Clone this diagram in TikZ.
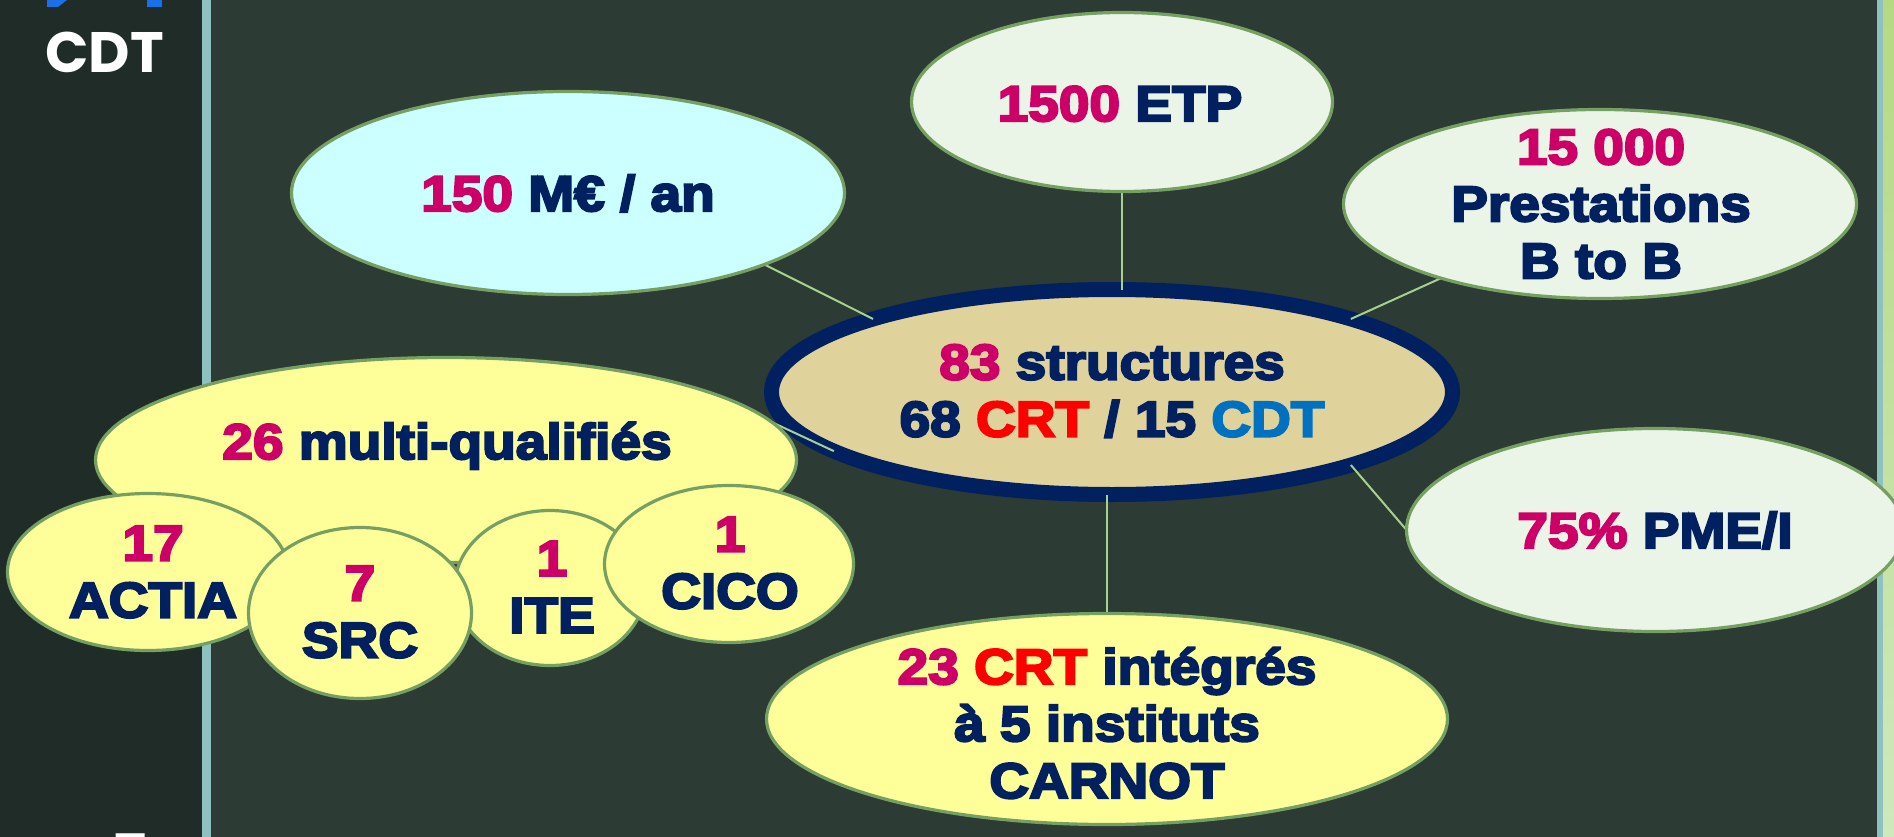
\documentclass[tikz,border=0pt]{standalone}
\usepackage{fontspec}
\usetikzlibrary{shapes.geometric}
\newfontfamily\hv{Liberation Sans}[UprightFont={* Bold}, FakeStretch=1.1]
\newfontfamily\pop{Poppins}
\newcommand\heavytext{\special{pdf:literal direct 2 Tr 2.2 w}}
\definecolor{mag}{HTML}{CC0066}
\definecolor{navy}{HTML}{002060}
\definecolor{redc}{HTML}{FF0000}
\definecolor{bluec}{HTML}{0070C0}
\definecolor{olv}{HTML}{76A062}
\definecolor{lgr}{HTML}{A9D18E}
\definecolor{cyanf}{HTML}{CCFFFF}
\definecolor{paleg}{HTML}{EBF5E7}
\definecolor{yel}{HTML}{FFFF99}
\definecolor{tanf}{HTML}{DFD39B}
\definecolor{bgmain}{HTML}{2C3B33}
\definecolor{bgleft}{HTML}{202C28}
\definecolor{barc}{HTML}{8FC1C1}
\definecolor{logob}{HTML}{1A6FEA}
\definecolor{stripa}{HTML}{B5D983}
\definecolor{stripb}{HTML}{CFE8BC}
\tikzset{
  bub/.style={ellipse, draw=olv, line width=3.2pt, inner sep=0pt, outer sep=0pt},
  txt/.style={font={\hv\fontsize{50}{57}\selectfont\heavytext}, text=navy, align=center, inner sep=0pt},
  conn/.style={draw=lgr, line width=2pt},
  side/.style={font={\pop\bfseries\fontsize{57}{57}\selectfont}, text=white, inner sep=0pt}
}
\begin{document}
\begin{tikzpicture}[x=1pt,y=-1pt]
\useasboundingbox (0,0) rectangle (1894,837);
\clip (0,0) rectangle (1894,837);
% background
\fill[bgmain] (0,0) rectangle (1894,837);
\fill[bgleft] (0,0) rectangle (202,837);
\fill[barc] (202,0) rectangle (211,837);
\fill[barc] (1877,0) rectangle (1883,837);
\shade[top color=stripa, bottom color=stripb] (1883,0) rectangle (1894,837);
% side panel decorations
\fill[logob] (47,0) -- (67,0) -- (58,7) -- (47,7) -- cycle;
\fill[logob] (147,0) rectangle (162,7);
\node[side, anchor=base west] (cdt) at (45,73) {CDT};
\node[side, anchor=base, font={\pop\bfseries\fontsize{60}{60}\selectfont}] (pnum) at (131,877) {7};
% central ellipse
\node[bub, fill=tanf, draw=navy, line width=15pt, minimum width=681pt, minimum height=205pt] (center) at (1112,392) {};
% invisible anchors of the outer ellipses for the connectors
\node[bub, draw=none, minimum width=553pt, minimum height=203pt] (m150) at (568,193) {};
\node[bub, draw=none, minimum width=421pt, minimum height=179pt] (etp) at (1122,102) {};
\node[bub, draw=none, minimum width=513pt, minimum height=189pt] (prest) at (1600,204) {};
\node[bub, draw=none, minimum width=701pt, minimum height=205pt] (multi) at (446,460) {};
\node[bub, draw=none, minimum width=497pt, minimum height=203pt] (p75) at (1655,530) {};
\node[bub, draw=none, minimum width=681pt, minimum height=211pt] (carnot) at (1107,719) {};
% connectors
\draw[conn] (m150.-20) -- (center.163);
\draw[conn] (etp.south) -- (etp.south |- center.north);
\draw[conn] (prest.205) -- (center.17);
\draw[conn] (center.-17) -- (p75.west);
\draw[conn] (carnot.north) -- (carnot.north |- center.south);
\draw[conn] (center.192) -- (multi.15);
% ellipses drawn
\node[bub, fill=cyanf, minimum width=553pt, minimum height=203pt] (m150e) at (568,193) {};
\node[bub, fill=paleg, minimum width=421pt, minimum height=179pt] (etpe) at (1122,102) {};
\node[bub, fill=paleg, minimum width=513pt, minimum height=189pt] (preste) at (1600,204) {};
\node[bub, fill=yel, minimum width=701pt, minimum height=205pt] (multie) at (446,460) {};
\node[bub, fill=paleg, minimum width=497pt, minimum height=203pt] (p75e) at (1655,530) {};
\node[bub, fill=yel, minimum width=681pt, minimum height=211pt] (carnote) at (1107,719) {};
\node[bub, fill=yel, minimum width=281pt, minimum height=157pt] (actia) at (148,572) {};
\node[bub, fill=yel, minimum width=191pt, minimum height=155pt] (ite) at (550,588) {};
\node[bub, fill=yel, minimum width=223pt, minimum height=171pt] (src) at (360,613) {};
\node[bub, fill=yel, minimum width=249pt, minimum height=157pt] (cico) at (729,564) {};
% texts
\node[txt] (tcenter) at (1112,391) {{\color{mag}83} structures\\68 {\color{redc}CRT} / 15 {\color{bluec}CDT}};
\node[txt, anchor=base] (tm150) at (568,211) {{\color{mag}150} M€ / an};
\node[txt, anchor=base] (tetp) at (1120,121) {{\color{mag}1500} ETP};
\node[txt] (tprest) at (1601,204) {{\color{mag}15 000}\\Prestations\\B to B};
\node[txt, anchor=base] (tmulti) at (447,459) {{\color{mag}26} multi-qualifiés};
\node[txt, anchor=base] (tp75) at (1655,548) {{\color{mag}75\%} PME/I};
\node[txt] (tcarnot) at (1107,723) {{\color{mag}23} {\color{redc}CRT} intégrés\\à 5 instituts\\CARNOT};
\node[txt] (tactia) at (153,572) {{\color{mag}17}\\ACTIA};
\node[txt] (tsrc) at (360,612) {{\color{mag}7}\\SRC};
\node[txt] (tite) at (552,587) {{\color{mag}1}\\ITE};
\node[txt] (tcico) at (730,563) {{\color{mag}1}\\CICO};
\end{tikzpicture}
\end{document}
